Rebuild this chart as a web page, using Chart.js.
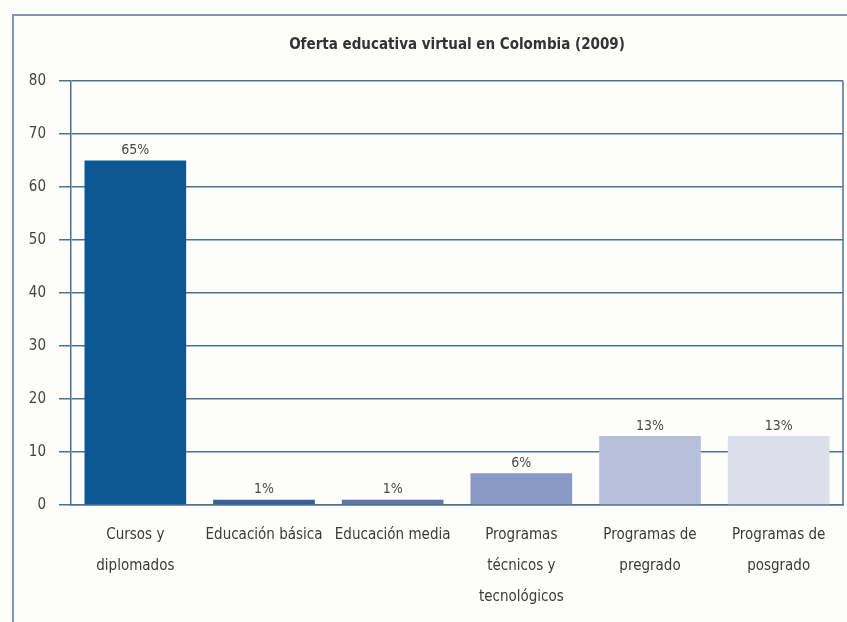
<!DOCTYPE html>
<html>
<head>
<meta charset="utf-8">
<script src="https://cdn.jsdelivr.net/npm/chart.js@4.4.1/dist/chart.umd.min.js"></script>
<style>
  html, body { margin: 0; padding: 0; background: #fdfdfb; }
  #wrap { position: relative; width: 847px; height: 622px; overflow: hidden; }
  #frame { position: absolute; left: 12px; top: 14px; width: 900px; height: 700px; border: 2px solid #8596ab; }
  #chart { position: absolute; left: 0; top: 0; }
</style>
</head>
<body>
<div id="wrap">
  <div id="frame"></div>
  <canvas id="chart" width="847" height="622"></canvas>
</div>
<script>
// Oferta educativa virtual en Colombia (2009)
const categories = [
    ['Cursos y', 'diplomados'],
    'Educación básica',
    'Educación media',
    ['Programas', 'técnicos y', 'tecnológicos'],
    ['Programas de', 'pregrado'],
    ['Programas de', 'posgrado']
];
const percentages = [65, 1, 1, 6, 13, 13];
const barColors = ['#0b5893', '#3d5f98', '#5e77a7', '#8899c5', '#b7c0db', '#dcdfea'];
const yTicks = [0, 10, 20, 30, 40, 50, 60, 70, 80];

const narrow = "'Liberation Sans Narrow', 'DejaVu Sans Condensed', sans-serif";
const lineColor = '#4c7296';

// percentage label over each bar
const valueLabels = {
    id: 'valueLabels',
    afterDatasetsDraw(chart) {
        const ctx = chart.ctx;
        const meta = chart.getDatasetMeta(0);
        ctx.save();
        ctx.font = '14px ' + narrow;
        ctx.fillStyle = '#4a4a4a';
        ctx.textAlign = 'center';
        ctx.textBaseline = 'middle';
        meta.data.forEach(function(bar, i) {
            ctx.fillText(percentages[i] + '%', bar.x, bar.y - 10);
        });
        ctx.restore();
    }
};

// right edge of the plot box
const plotBox = {
    id: 'plotBox',
    beforeDatasetsDraw(chart) {
        const a = chart.chartArea;
        const ctx = chart.ctx;
        ctx.save();
        ctx.strokeStyle = lineColor;
        ctx.lineWidth = 1.5;
        ctx.beginPath();
        ctx.moveTo(a.right, a.top);
        ctx.lineTo(a.right, a.bottom);
        ctx.stroke();
        ctx.restore();
    }
};

new Chart(document.getElementById('chart'), {
    type: 'bar',
    data: {
        labels: categories,
        datasets: [{
            data: percentages,
            backgroundColor: barColors,
            barPercentage: 0.79,
            categoryPercentage: 1.0
        }]
    },
    options: {
        responsive: false,
        animation: false,
        layout: { padding: { left: 0, right: 4, top: 0, bottom: 0 } },
        plugins: {
            legend: { display: false },
            tooltip: { enabled: false },
            title: {
                display: true,
                fullSize: false,
                text: 'Oferta educativa virtual en Colombia (2009)',
                color: '#333333',
                font: { family: narrow, size: 15, weight: 'bold' },
                padding: { top: 36, bottom: 27 }
            }
        },
        scales: {
            x: {
                grid: { display: false },
                border: { display: true, color: lineColor, width: 1.5 },
                ticks: {
                    color: '#3a3a3a',
                    font: { family: narrow, size: 15, lineHeight: 2.05 },
                    padding: 7,
                    maxRotation: 0,
                    autoSkip: false
                },
                afterFit(scale) { scale.height = 117; }
            },
            y: {
                min: 0,
                max: 80,
                afterBuildTicks(scale) {
                    scale.ticks = yTicks.map(v => ({ value: v }));
                },
                grid: { color: lineColor, lineWidth: 1.5, tickLength: 12 },
                border: { display: true, color: lineColor, width: 1.5 },
                ticks: {
                    color: '#444444',
                    font: { family: narrow, size: 15 },
                    padding: 13
                },
                afterFit(scale) { scale.width = 71; }
            }
        }
    },
    plugins: [valueLabels, plotBox]
});
</script>
</body>
</html>
